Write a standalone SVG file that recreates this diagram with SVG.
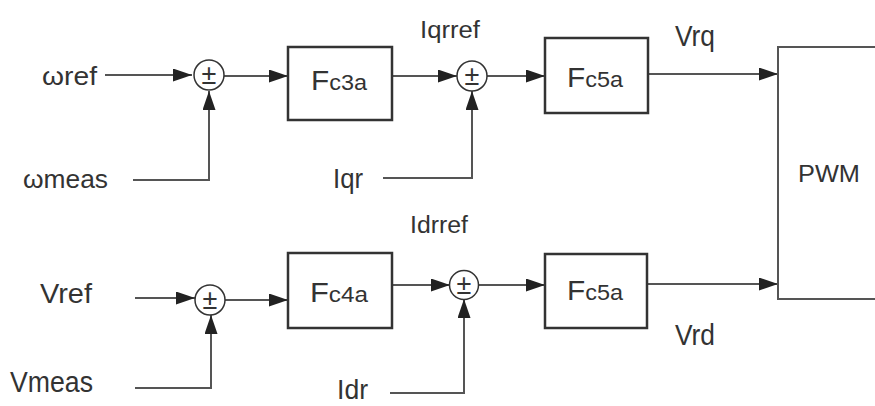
<svg xmlns="http://www.w3.org/2000/svg" width="875" height="406" viewBox="0 0 875 406">
<style>
  text { font-family: "Liberation Sans", Arial, sans-serif; fill: #333; }
  .box { fill: #fff; stroke: #333; stroke-width: 2.5; }
  .sum { fill: #fff; stroke: #333; stroke-width: 1.5; }
  .wire { fill: none; stroke: #555; stroke-width: 2; }
  .pm { font-size: 27px; text-anchor: middle; }
  .big { font-size: 28px; }
  .sub { font-size: 22px; }
</style>
<defs>
  <marker id="arr" markerUnits="userSpaceOnUse" markerWidth="20" markerHeight="14" refX="19" refY="6.5" orient="auto">
    <path d="M0,0 L19,6.5 L0,13 Z" fill="#222"/>
  </marker>
</defs>
<rect width="875" height="406" fill="#fff"/>

<g id="connectors">
  <line class="wire" x1="105" y1="75" x2="192" y2="75" marker-end="url(#arr)"/>
  <polyline class="wire" points="133,180 209,180 209,91" marker-end="url(#arr)"/>
  <line class="wire" x1="224" y1="76" x2="288" y2="76" marker-end="url(#arr)"/>
  <line class="wire" x1="392" y1="76" x2="457" y2="76" marker-end="url(#arr)"/>
  <polyline class="wire" points="383,178 472,178 472,91" marker-end="url(#arr)"/>
  <line class="wire" x1="487" y1="76" x2="545" y2="76" marker-end="url(#arr)"/>
  <line class="wire" x1="648" y1="74" x2="778" y2="74" marker-end="url(#arr)"/>

  <line class="wire" x1="135" y1="298" x2="195" y2="298" marker-end="url(#arr)"/>
  <polyline class="wire" points="135,388 211,388 211,315" marker-end="url(#arr)"/>
  <line class="wire" x1="225" y1="300" x2="288" y2="300" marker-end="url(#arr)"/>
  <line class="wire" x1="392" y1="285" x2="450" y2="285" marker-end="url(#arr)"/>
  <polyline class="wire" points="390,393 464,393 464,299" marker-end="url(#arr)"/>
  <line class="wire" x1="479" y1="285" x2="545" y2="285" marker-end="url(#arr)"/>
  <line class="wire" x1="648" y1="284" x2="778" y2="284" marker-end="url(#arr)"/>
</g>

<g id="sum1"><circle class="sum" cx="209" cy="75" r="15"/><text class="pm" x="209" y="84">±</text></g>
<g id="sum2"><circle class="sum" cx="472" cy="76" r="15"/><text class="pm" x="472" y="85">±</text></g>
<g id="sum3"><circle class="sum" cx="210" cy="300" r="15"/><text class="pm" x="210" y="309">±</text></g>
<g id="sum4"><circle class="sum" cx="464" cy="285" r="14.5"/><text class="pm" x="464" y="294">±</text></g>

<g id="fc3a"><rect class="box" x="288" y="47" width="104" height="73"/>
  <text x="311" y="90" textLength="56" lengthAdjust="spacingAndGlyphs"><tspan class="big">F</tspan><tspan class="sub">c3a</tspan></text></g>
<g id="fc5a-top"><rect class="box" x="545" y="38" width="103" height="75"/>
  <text x="567" y="87" textLength="56" lengthAdjust="spacingAndGlyphs"><tspan class="big">F</tspan><tspan class="sub">c5a</tspan></text></g>
<g id="fc4a"><rect class="box" x="288" y="253" width="104" height="75"/>
  <text x="310" y="302" textLength="58" lengthAdjust="spacingAndGlyphs"><tspan class="big">F</tspan><tspan class="sub">c4a</tspan></text></g>
<g id="fc5a-bottom"><rect class="box" x="545" y="254" width="102" height="74"/>
  <text x="567" y="300" textLength="56" lengthAdjust="spacingAndGlyphs"><tspan class="big">F</tspan><tspan class="sub">c5a</tspan></text></g>
<g id="pwm"><rect x="778" y="47" width="120" height="252" fill="#fff" stroke="#555" stroke-width="2"/>
  <text x="798" y="182" font-size="23" textLength="62" lengthAdjust="spacingAndGlyphs">PWM</text></g>

<g id="labels">
  <text x="42" y="85" font-size="25" textLength="55" lengthAdjust="spacingAndGlyphs">ωref</text>
  <text x="23" y="188" font-size="26" textLength="85" lengthAdjust="spacingAndGlyphs">ωmeas</text>
  <text x="420" y="38" font-size="23" textLength="60" lengthAdjust="spacingAndGlyphs">Iqrref</text>
  <text x="333" y="188" font-size="27" textLength="30" lengthAdjust="spacingAndGlyphs">Iqr</text>
  <text x="675" y="46" font-size="29" textLength="40" lengthAdjust="spacingAndGlyphs">Vrq</text>
  <text x="40" y="303" font-size="28" textLength="52" lengthAdjust="spacingAndGlyphs">Vref</text>
  <text x="10" y="392" font-size="30" textLength="83" lengthAdjust="spacingAndGlyphs">Vmeas</text>
  <text x="410" y="233" font-size="23" textLength="58" lengthAdjust="spacingAndGlyphs">Idrref</text>
  <text x="337" y="399" font-size="27" textLength="31" lengthAdjust="spacingAndGlyphs">Idr</text>
  <text x="675" y="345" font-size="29" textLength="40" lengthAdjust="spacingAndGlyphs">Vrd</text>
</g>
</svg>
